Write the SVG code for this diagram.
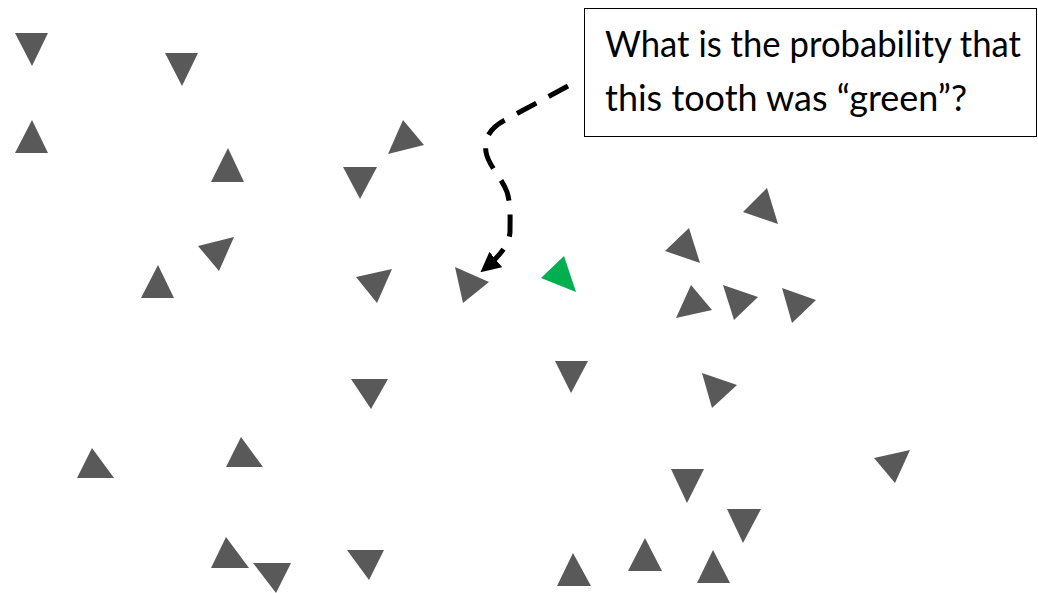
<svg xmlns="http://www.w3.org/2000/svg" width="1038" height="593" viewBox="0 0 1038 593">
<style>
.t{fill:#595959}
.g{fill:#00B050}
.lbl{font-family:"Lato","Open Sans","Liberation Sans",sans-serif;font-size:36px;fill:#000}
.conn{fill:none;stroke:#000;stroke-width:5;stroke-dasharray:22 14}
</style>
<defs>
<marker id="ah" viewBox="0 0 10 10" refX="9" refY="5" markerWidth="4" markerHeight="4" orient="auto" markerUnits="strokeWidth">
<path d="M0,0 L10,5 L0,10 z" fill="#000"/>
</marker>
</defs>
<rect width="1038" height="593" fill="#fff"/>
<g id="t1"><polygon class="t" points="15,33 48,33 32,66"/></g>
<g id="t2"><polygon class="t" points="165,53 198,53 182,86"/></g>
<g id="t3"><polygon class="t" points="32,120 15,153 48,153"/></g>
<g id="t4"><polygon class="t" points="228,148 211,182 244,182"/></g>
<g id="t5"><polygon class="t" points="403,120 424,145 388,154"/></g>
<g id="t6"><polygon class="t" points="343,167 377,167 360,199"/></g>
<g id="t7"><polygon class="t" points="198,246 234,237 219,271"/></g>
<g id="t8"><polygon class="t" points="158,265 141,298 174,298"/></g>
<g id="t9"><polygon class="t" points="356,277 392,269 377,303"/></g>
<g id="t10"><polygon class="t" points="455,267 489,282 463,303"/></g>
<g id="green"><polygon class="g" points="564,256 576,292 541,278"/></g>
<g id="t11"><polygon class="t" points="767,188 778,224 743,212"/></g>
<g id="t12"><polygon class="t" points="689,228 700,263 665,251"/></g>
<g id="t13"><polygon class="t" points="691,285 712,310 676,318"/></g>
<g id="t14"><polygon class="t" points="723,285 758,297 734,320"/></g>
<g id="t15"><polygon class="t" points="782,288 816,300 792,323"/></g>
<g id="t16"><polygon class="t" points="555,361 588,361 571,393"/></g>
<g id="t17"><polygon class="t" points="702,373 737,385 712,408"/></g>
<g id="t18"><polygon class="t" points="92,448 77,478 114,478"/></g>
<g id="t19"><polygon class="t" points="241,437 226,467 263,467"/></g>
<g id="t20"><polygon class="t" points="351,379 388,379 371,409"/></g>
<g id="t21"><polygon class="t" points="226,537 211,568 249,568"/></g>
<g id="t22"><polygon class="t" points="253,563 291,563 276,593"/></g>
<g id="t23"><polygon class="t" points="347,550 384,550 369,580"/></g>
<g id="t24"><polygon class="t" points="874,458 910,450 895,483"/></g>
<g id="t25"><polygon class="t" points="671,469 704,469 687,503"/></g>
<g id="t26"><polygon class="t" points="727,509 761,509 743,543"/></g>
<g id="t27"><polygon class="t" points="645,538 628,571 662,571"/></g>
<g id="t28"><polygon class="t" points="573,553 557,586 591,586"/></g>
<g id="t29"><polygon class="t" points="713,550 697,583 730,583"/></g>
<g id="question">
<rect x="584.5" y="8.5" width="452" height="128" fill="#fff" stroke="#000" stroke-width="1"/>
<text class="lbl" x="605" y="57" textLength="416" lengthAdjust="spacingAndGlyphs">What is the probability that</text>
<text class="lbl" x="605" y="111" textLength="362" lengthAdjust="spacingAndGlyphs">this tooth was “green”?</text>
</g>
<g id="connectors">
<path class="conn" marker-end="url(#ah)" d="M568,86 L505,120 C490,128 484,138 486,152 C488,165 502,178 507,192 C511,205 510,218 510,232 C509,245 500,256 482,271"/>
</g>
</svg>
